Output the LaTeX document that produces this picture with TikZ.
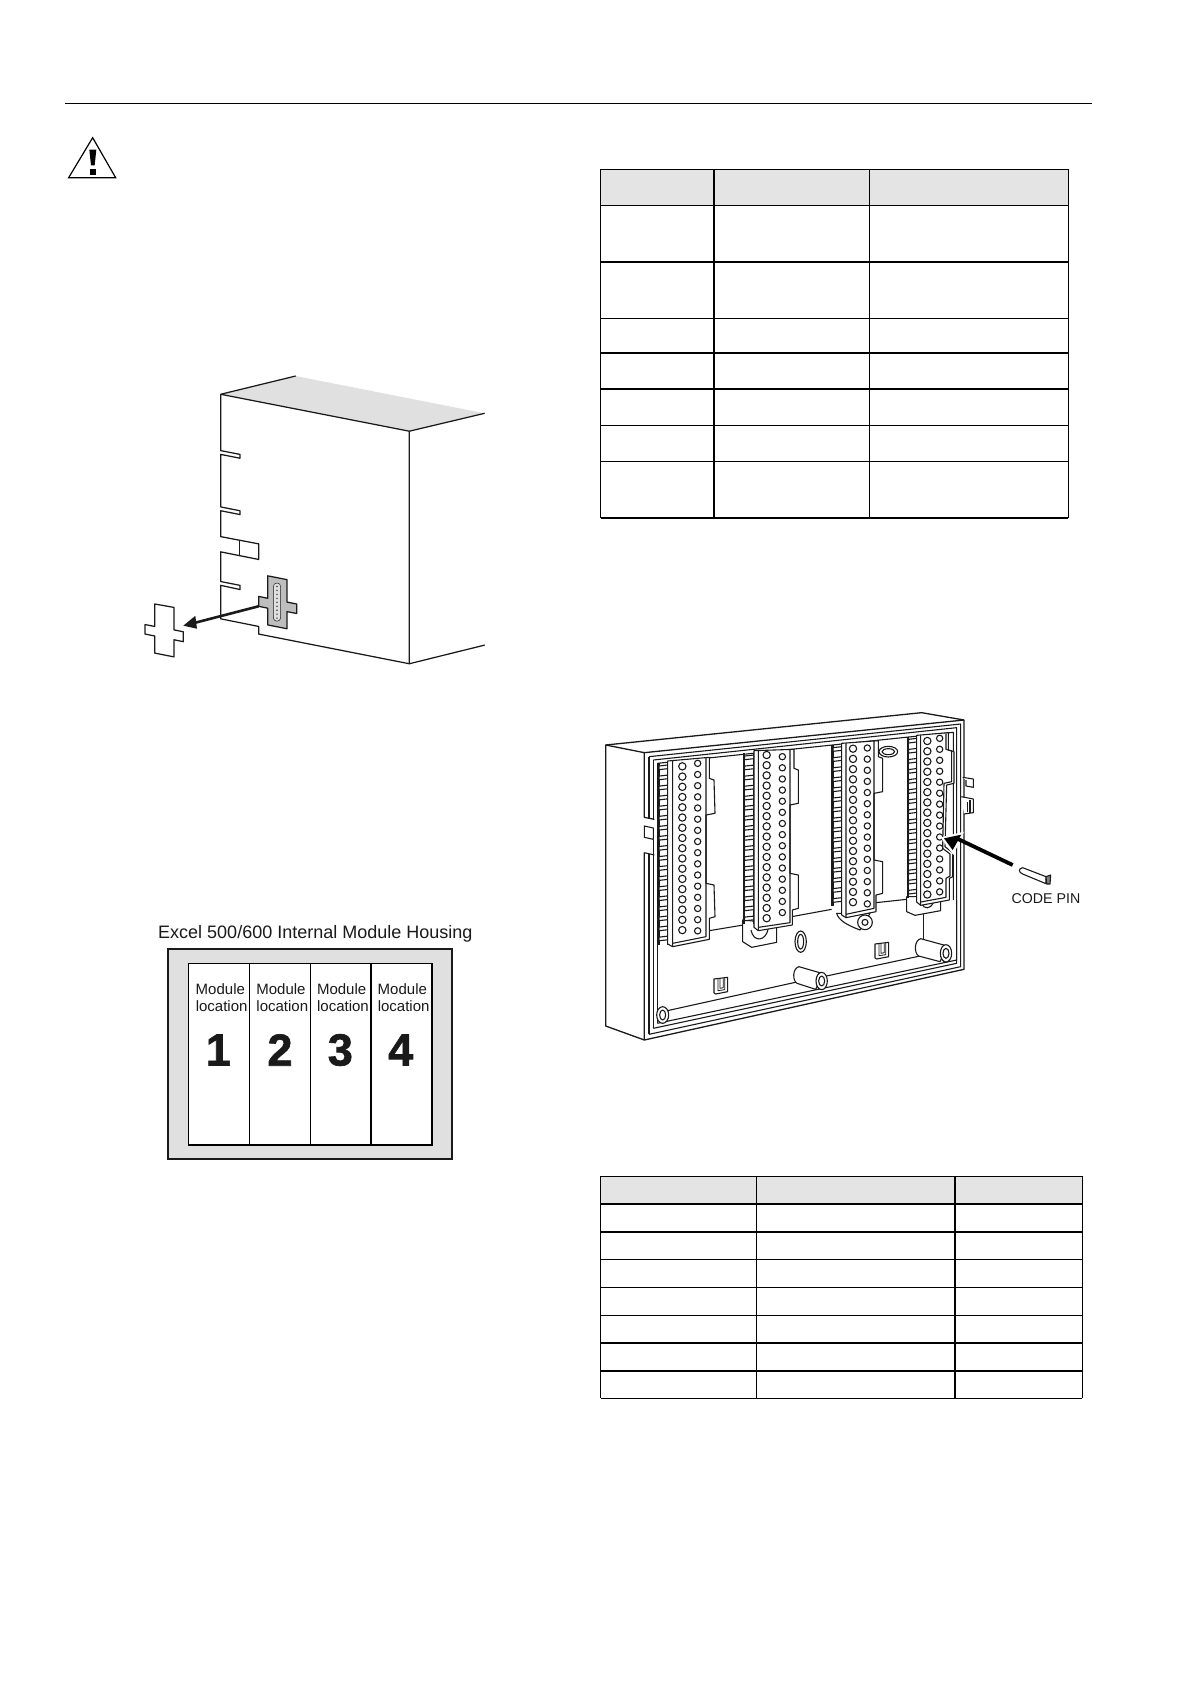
\documentclass[tikz,border=0pt]{standalone}
\usepackage{fontspec}
\setmainfont{Liberation Sans}
\newfontfamily\heavy[FakeBold=1.5]{Liberation Sans Bold}
\definecolor{pale}{HTML}{E0E0E0}
\definecolor{headgray}{HTML}{E4E4E4}
\definecolor{midgray}{HTML}{BEBEBE}
\definecolor{ink}{HTML}{1A1A1A}
\tikzset{
  zone/.style 2 args={shift={(#1pt,-#2pt)},x=0.33333pt,y=-0.33333pt},
  tallzone/.style 2 args={shift={(#1pt,-#2pt)},x=0.33333pt,y=-0.3846pt},
  cabzone/.style 2 args={shift={(#1pt,-#2pt)},x=0.33333pt,y=-0.3806pt},
  art/.style={draw=ink,line width=1.1pt,line join=round},
  boxart/.style={draw=ink,line width=1.25pt,line join=round},
  thin art/.style={draw=ink,line width=0.8pt,line join=round},
  thickrule/.style={draw=black,line width=1.7pt},
  thinrule/.style={draw=black,line width=0.9pt},
  lbl/.style={inner sep=0pt,text=ink,anchor=center},
}
\newcommand\ribset[5]{%
  \draw[art] (#1,#3)--(#1,{#3+#4*#5}) (#1+4,#3)--(#1+4,{#3+#4*#5}) (#2,#3-2)--(#2,{#3+#4*#5});
  \pgfmathtruncatemacro\ribn{#4-1}%
  \foreach \i in {0,...,\ribn}{%
    \pgfmathsetmacro\ry{#3+\i*#5+8}%
    \draw[art,fill=white] (#1+4,\ry)--(#2,\ry-3)--(#2,\ry+8)--(#1+4,\ry+11)--cycle;
  }}
\newcommand\holecol[5]{%
  \pgfmathtruncatemacro\holen{#3-1}%
  \foreach \i in {0,...,\holen}{%
    \pgfmathsetmacro\hy{#2+\i*#4}%
    \draw[art,fill=white] (#1,\hy) circle[radius=#5];
  }}
\newcommand\bossroll[6]{% left x, top-left y, bottom-left y, ellipse x, ellipse y, unused
  \draw[art,fill=white] (#1+12,#2) .. controls (#1-8,#2+5) and (#1-8,#3-8) .. (#1+6,#3) -- (#4-18,#5+25) -- (#4+4,#5-22) -- cycle;
  \draw[art,fill=white] (#4,#5) circle[x radius=17,y radius=26];
  \draw[art] (#4,#5) circle[x radius=9,y radius=15];
}
\newcommand\clipU[2]{%
  \begin{scope}[shift={(#1,#2)}]
  \draw[art,fill=white] (-20,-20)--(21,-25)--(21,18)--(-15,25)--(-20,22)--cycle;
  \draw[thin art] (-8,-21)--(-8,15)--(12,12)--(12,-23);
  \draw[thin art] (-2,-20)--(-2,8)--(8,6)--(8,-22);
  \end{scope}}
\begin{document}
\begin{tikzpicture}[x=1pt,y=-1pt]
\useasboundingbox (0,0) rectangle (1190,1684);
\fill[white] (0,0) rectangle (1190,1684);
% header rule
\coordinate (ruleL) at (65,103);
\coordinate (ruleR) at (1092,103);
\draw[draw=black,line width=1pt] (ruleL)--(ruleR);

% warning triangle
\begin{scope}[tallzone={50}{90}]
\draw[draw=black,line width=1.2pt,line join=miter] (128,124)--(197,228)--(56,228)--cycle;
\fill[black] (118,155)--(139,155)--(134,196)--(123,196)--cycle;
\fill[black] (121,205) rectangle (137,220);
\end{scope}

% cabinet
\begin{scope}[cabzone={50}{93.6}]
\fill[pale] (512,790)--(737,742)--(1304,840)--(1078,887)--cycle;
\draw[boxart] (737,742)--(512,790)--(1078,887)--(1304,840);
\draw[boxart] (1078,887)--(1078,1498)--(1304,1449);
\draw[boxart] (512,790)--(512,938)--(570,948)--(570,958)--(512,948)--(512,1086)--(570,1096)--(570,1106)--(512,1096)--(512,1164)--(626,1183)--(626,1224)--(512,1204)--(512,1282)--(570,1292)--(570,1303)--(512,1292)--(512,1380)--(626,1400)--(626,1420)--(1078,1498);
\draw[boxart] (569,1175)--(569,1214);
\draw[boxart,fill=midgray] (653,1267)--(711,1277)--(711,1336)--(740,1341)--(740,1366)--(711,1361)--(711,1406)--(653,1396)--(653,1352)--(626,1347)--(626,1321)--(653,1326)--cycle;
\draw[draw=ink,fill=pale,rounded corners=3.5pt,line width=0.5pt] (670,1286) rectangle (692,1386);
\foreach \i in {0,...,8}{\fill[ink] (681,1295+\i*10.4) circle[radius=2.2];}
\draw[boxart,fill=white] (314,1341)--(372,1350)--(372,1409)--(400,1414)--(400,1440)--(372,1435)--(372,1480)--(314,1470)--(314,1425)--(285,1420)--(285,1395)--(314,1400)--cycle;
\coordinate (pullA) at (626,1347);
\coordinate (pullB) at (432,1391);
\draw[draw=ink,line width=2.6pt] (pullA)--(pullB);
\fill[ink] (400,1398)--(436,1372)--(441,1406)--cycle;
\end{scope}

% module housing
\begin{scope}[zone={140}{910}]
\draw[draw=ink,line width=1.7pt,fill=pale] (84,118) rectangle (936,746);
\draw[draw=black,line width=1.1pt,fill=white] (146,161) rectangle (876,705);
\draw[draw=black,line width=1.7pt] (146,705)--(876,705) (876,161)--(876,705) (692,161)--(692,705);
\draw[draw=black,line width=0.9pt] (328,161)--(328,705) (511,161)--(511,705);
\node[lbl] (title) at (526,72) {\fontsize{18}{20}\selectfont Excel 500/600 Internal Module Housing};
\foreach \n/\tx/\nx in {1/241/235,2/423/420,3/605/601,4/787/782}{
  \node[lbl] at (\tx,238) {\fontsize{15}{16}\selectfont Module};
  \node[lbl] at (\tx+4,288) {\fontsize{15}{16}\selectfont location};
  \node[lbl] at (\nx,420) {\fontsize{45}{46}\selectfont\heavy \n};
}
\end{scope}

% table one
\begin{scope}[zone={590}{150}]
\fill[headgray] (32,58) rectangle (1435,166);
\foreach \y in {58,166,505,826,934}{\draw[thinrule] (32,\y)--(1435,\y);}
\foreach \y in {335,610,718,1104}{\draw[thickrule] (32,\y)--(1435,\y);}
\draw[thinrule] (32,58)--(32,1104) (838,58)--(838,1104) (1435,58)--(1435,1104);
\draw[thickrule] (371,58)--(371,1104);
\end{scope}

% table two
\begin{scope}[zone={590}{1170}]
\fill[headgray] (32,19) rectangle (1477,101);
\foreach \y in {19,268,352,436,685}{\draw[thinrule] (32,\y)--(1477,\y);}
\foreach \y in {101,185,519,603}{\draw[thickrule] (32,\y)--(1477,\y);}
\draw[thinrule] (32,19)--(32,685) (499,19)--(499,685) (1477,19)--(1477,685);
\draw[thickrule] (1095,19)--(1095,685);
\end{scope}

% terminal housing
\begin{scope}[zone={590}{700}]
\draw[art,line width=1.3pt,fill=white] (47,135)--(995,38)--(1122,60)--(1122,808)--(163,1020)--(47,978)--cycle;
\draw[art,line width=1.3pt] (47,135)--(163,158)--(1122,60);
% right tabs
\draw[art,fill=white] (1118,232)--(1150,237)--(1150,262)--(1128,258)--(1128,240);
\draw[art,fill=white] (1114,290)--(1150,297)--(1150,338)--(1122,342);
\draw[art] (1132,306)--(1132,336) (1140,300)--(1140,338);
% left wall, interrupted at the tab
\draw[art,line width=1.3pt] (163,158)--(163,352)--(193,358) (163,458)--(163,1020);
\draw[art] (163,458)--(193,465);
\draw[art,fill=white] (163,378)--(190,384)--(190,418)--(163,412)--cycle;
\draw[art] (177,170)--(177,354) (177,462)--(177,1003);
\draw[art] (190,180)--(190,360) (190,420)--(190,985);
\draw[art] (202,190)--(202,970);
% the nested frame
\draw[art] (177,170)--(1112,72)--(1112,800)--(177,1003);
\draw[art] (190,180)--(1100,83)--(1100,790)--(190,985);
\draw[art] (202,190)--(1090,97)--(1090,600) (1100,600)--(1100,780)--(202,970);
% wall and floor
\draw[art] (358,692)--(460,675) (605,650)--(725,628) (858,608)--(950,598);
\draw[art] (232,932)--(625,845) (700,830)--(990,768);
\draw[art] (1001,640)--(1001,718);
% hole and slots
\draw[art,fill=white] (632,725) circle[x radius=17,y radius=32];
\draw[art] (632,725) circle[x radius=9,y radius=22];
\draw[art,fill=white] (895,155) circle[x radius=28,y radius=16];
\draw[art] (895,155) circle[x radius=19,y radius=9];
\clipU{392}{857}
\clipU{875}{752}
% screws
\draw[art,fill=white] (218,945) circle[x radius=18,y radius=25];
\draw[art] (218,945) circle[x radius=9,y radius=15];
\bossroll{615}{800}{850}{695}{843}{}
\bossroll{980}{716}{768}{1068}{760}{}
% stands beneath modules
\draw[art,fill=white] (458,660)--(458,725)--(485,742)--(560,727)--(560,670)--cycle;
\draw[art,fill=white] (483,690) .. controls (490,728) and (528,725) .. (535,685);
\draw[art,fill=white] (950,590)--(950,635)--(975,646)--(1052,632)--(1052,590)--cycle;
\draw[art] (995,612) .. controls (1005,628) and (1020,628) .. (1030,608);
\draw[art,fill=white] (740,640) .. controls (745,660) and (770,675) .. (810,690)--(840,640)--cycle;
\draw[art,fill=white] (825,667) circle[radius=22];
\draw[art] (825,667) circle[radius=9];
% module 1
\ribset{203}{233}{190}{18}{30.2}
\draw[art,fill=white] (233,183)--(358,172)--(358,235)--(372,240)--(375,340)--(348,345)--(348,550)--(372,555)--(375,650)--(358,655)--(358,718)--(248,740)--(233,732)--cycle;
\draw[art] (248,182)--(248,740) (348,173)--(348,710)--(248,730);
\holecol{277}{199}{17}{30.7}{11}
\holecol{323}{190}{16}{33.5}{9.5}
% module 2
\ribset{460}{492}{160}{17}{30.2}
\draw[art,fill=white] (492,152)--(612,148)--(612,205)--(625,210)--(625,310)--(600,315)--(600,520)--(625,525)--(625,625)--(607,630)--(607,675)--(505,692)--(492,682)--cycle;
\draw[art] (505,152)--(505,692) (600,149)--(600,668)--(505,682);
\holecol{530}{165}{17}{30.6}{11}
\holecol{577}{170}{15}{33.4}{9.5}
% module 3
\ribset{725}{755}{135}{16}{30.2}
\draw[art,fill=white] (755,130)--(865,122)--(865,170)--(878,175)--(878,275)--(852,280)--(852,480)--(878,485)--(878,580)--(858,585)--(858,635)--(768,653)--(755,645)--cycle;
\draw[art] (768,130)--(768,653) (852,123)--(852,625)--(768,643);
\holecol{789}{146}{16}{30.7}{11}
\holecol{832}{144}{15}{33.4}{9.5}
% module 4
\ribset{952}{980}{110}{16}{30.2}
\draw[art,fill=white] (980,106)--(1075,98)--(1075,150)--(1092,155)--(1092,250)--(1070,255)--(1065,440)--(1088,458)--(1088,530)--(1078,535)--(1078,600)--(992,616)--(980,606)--cycle;
\draw[art] (992,106)--(992,616) (1068,100)--(1068,148)--(1085,153)--(1085,245)--(1062,250)--(1058,445)--(1080,462)--(1080,528)--(1068,535)--(1068,592)--(992,606);
\holecol{1012}{123}{16}{30.7}{11}
\holecol{1049}{115}{15}{32.9}{9.5}
% code pin arrow and pin
\coordinate (pinArrowA) at (1268,495);
\coordinate (pinArrowB) at (1100,415);
\fill[white] (1052,412)--(1122,395)--(1090,465)--cycle;
\draw[draw=black,line width=3.8pt] (pinArrowA)--(pinArrowB);
\fill[black] (1062,415)--(1114,404)--(1088,450)--cycle;
\draw[art,fill=white] (1298,503)--(1368,530)--(1368,551)--(1298,522) .. controls (1285,517) and (1285,505) .. (1298,503);
\draw[art,fill=gray] (1368,530)--(1382,525)--(1380,552)--(1370,552)--cycle;
\node[lbl] (codepin) at (1368,597) {\fontsize{14.2}{16}\selectfont CODE PIN};
\end{scope}
\end{tikzpicture}
\end{document}
